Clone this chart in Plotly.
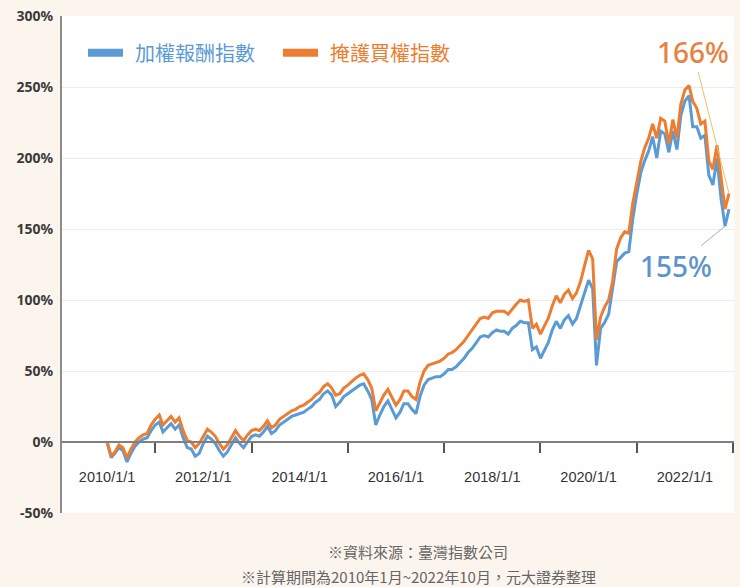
import plotly.graph_objects as go
import pandas as pd

# monthly observations, Jan 2010 .. Dec 2022
months = pd.date_range("2010-01-01", periods=156, freq="MS")

# 掩護買權指數 (covered call index), cumulative return %
covered_call = [
    0, -10, -7, -2, -4, -11, -5, 0, 3, 5, 6, 12,
    16, 19, 12, 15, 18, 14, 17, 8, 1, 0, -4, -1,
    4, 9, 7, 4, -1, -5, -2, 3, 8, 4, 1, 5,
    8, 9, 8, 11, 15, 10, 12, 16, 18, 20, 22, 23,
    25, 26, 28, 30, 33, 35, 39, 41, 38, 33, 34, 38,
    40, 43, 45, 47, 48, 44, 38, 22, 28, 33, 37, 32,
    26, 30, 36, 36, 32, 30, 42, 50, 54, 55, 56, 57,
    59, 62, 63, 65, 68, 71, 75, 79, 83, 87, 88, 87,
    91, 92, 92, 92, 90, 94, 97, 100, 99, 100, 80, 83,
    76, 82, 87, 96, 103, 98, 104, 107, 101, 105, 113, 124,
    135, 129, 72, 88, 95, 100, 113, 136, 144, 148, 147, 168,
    184, 198, 207, 214, 224, 214, 228, 226, 210, 227, 214, 238,
    248, 251, 240, 235, 224, 226, 198, 192, 209, 186, 164, 175,
]

# 加權報酬指數 (TAIEX total return index), cumulative return %
taiex_tr = [
    0, -11, -8, -4, -6, -14, -8, -3, 0, 2, 3, 8,
    12, 14, 7, 10, 13, 9, 12, 3, -4, -5, -10, -8,
    -1, 4, 2, -1, -6, -10, -7, -2, 3, -1, -4, 0,
    4, 5, 4, 7, 11, 6, 8, 12, 14, 16, 18, 19,
    20, 21, 23, 25, 28, 30, 34, 36, 33, 25, 28, 32,
    34, 36, 38, 40, 41, 36, 30, 12, 19, 25, 29, 23,
    17, 21, 27, 27, 23, 20, 32, 40, 44, 45, 46, 46,
    48, 51, 51, 53, 56, 59, 63, 66, 70, 74, 75, 74,
    77, 79, 78, 78, 76, 80, 82, 85, 84, 84, 65, 67,
    59, 65, 70, 79, 85, 80, 86, 89, 83, 87, 96, 104,
    114, 108, 54, 80, 84, 90, 108, 127, 130, 133, 134, 157,
    175, 190, 198, 205, 215, 200, 219, 217, 204, 219, 206, 230,
    240, 244, 222, 222, 214, 216, 188, 181, 200, 172, 152, 164,
]

series_names = ["加權報酬指數", "掩護買權指數"]
label_tr = "155%"
label_cc = "166%"

x_tick_dates = ["2010-01-01", "2012-01-01", "2014-01-01", "2016-01-01",
                "2018-01-01", "2020-01-01", "2022-01-01"]
x_tick_text = ["2010/1/1", "2012/1/1", "2014/1/1", "2016/1/1",
               "2018/1/1", "2020/1/1", "2022/1/1"]
x_minor_dates = ["2011-01-01", "2013-01-01", "2015-01-01", "2017-01-01",
                 "2019-01-01", "2021-01-01", "2023-01-01"]
y_ticks = [-50, 0, 50, 100, 150, 200, 250, 300]
y_tick_text = ["-50%", "0%", "50%", "100%", "150%", "200%", "250%", "300%"]

BLUE = "#5b9bd5"
ORANGE = "#ed7d31"
CJK = "Noto Sans CJK TC"
BG = "#fcf5ee"

fig = go.Figure()
fig.add_trace(go.Scatter(x=months, y=taiex_tr, mode="lines", name=series_names[0],
                         line=dict(color=BLUE, width=3), showlegend=False))
fig.add_trace(go.Scatter(x=months, y=covered_call, mode="lines", name=series_names[1],
                         line=dict(color=ORANGE, width=3), showlegend=False))

# legend (drawn as swatches + labels in paper space)
legend_items = [(series_names[0], BLUE, 0.0387, 0.0908, 0.1057),
                (series_names[1], ORANGE, 0.3289, 0.3810, 0.3958)]
for name, col, sx0, sx1, tx in legend_items:
    fig.add_shape(type="rect", xref="paper", yref="paper",
                  x0=sx0, x1=sx1, y0=0.918, y1=0.934,
                  fillcolor=col, line=dict(width=0))
    fig.add_annotation(xref="paper", yref="paper", x=tx, y=0.926,
                       xanchor="left", yanchor="middle", showarrow=False,
                       text=name, font=dict(family=CJK, size=20, color=col))

fig.add_annotation(x=months[-1], y=covered_call[-1], text=label_cc,
                   showarrow=True, arrowhead=0, arrowwidth=1, arrowcolor="#f0c060",
                   ax=-36, ay=-142,
                   font=dict(family="Noto Sans", size=28, color="#e8813d", weight=500))
fig.add_annotation(x=months[-2], y=taiex_tr[-2], text=label_tr,
                   showarrow=True, arrowhead=0, arrowwidth=1, arrowcolor="#9db3c8",
                   ax=-49, ay=40,
                   font=dict(family="Noto Sans", size=28, color="#5b93cc", weight=500))

fig.add_annotation(xref="paper", yref="paper", x=0.53, y=-0.077, yanchor="middle",
                   text="※資料來源：臺灣指數公司", showarrow=False,
                   font=dict(family=CJK, size=15, color="#666666"))
fig.add_annotation(xref="paper", yref="paper", x=0.53, y=-0.127, yanchor="middle",
                   text="※計算期間為2010年1月~2022年10月，元大證券整理", showarrow=False,
                   font=dict(family=CJK, size=15, color="#666666"))

fig.update_layout(
    width=740, height=587,
    margin=dict(l=62, r=6, t=14, b=74),
    paper_bgcolor=BG,
    plot_bgcolor="#ffffff",
    showlegend=False,
    xaxis=dict(
        type="date", range=["2009-01-24", "2023-01-08"],
        anchor="free", position=1/7,
        showline=True, linecolor="#7f7f7f", linewidth=2,
        showgrid=False, zeroline=False,
        tickmode="array", tickvals=x_tick_dates, ticktext=x_tick_text,
        ticks="", ticklabelstandoff=22,
        tickfont=dict(family="Liberation Sans", size=14.5, color="#333333"),
        minor=dict(tickmode="array", tickvals=x_minor_dates, ticks="outside",
                   ticklen=10, tickcolor="#555555", tickwidth=1.5, showgrid=False),
    ),
    yaxis=dict(
        range=[-50, 300], tickmode="array", tickvals=y_ticks, ticktext=y_tick_text,
        showline=True, linecolor="#8c8c8c", linewidth=2,
        showgrid=True, gridcolor="#ececec", gridwidth=1, zeroline=False,
        ticklabelstandoff=4,
        tickfont=dict(family="Noto Sans", size=14, color="#3a3a3a", weight="bold"),
    ),
)

fig.write_html(
    "out.html",
    config={"displayModeBar": False},
    post_script=f"document.body.style.margin='0';document.body.style.background='{BG}';",
)
